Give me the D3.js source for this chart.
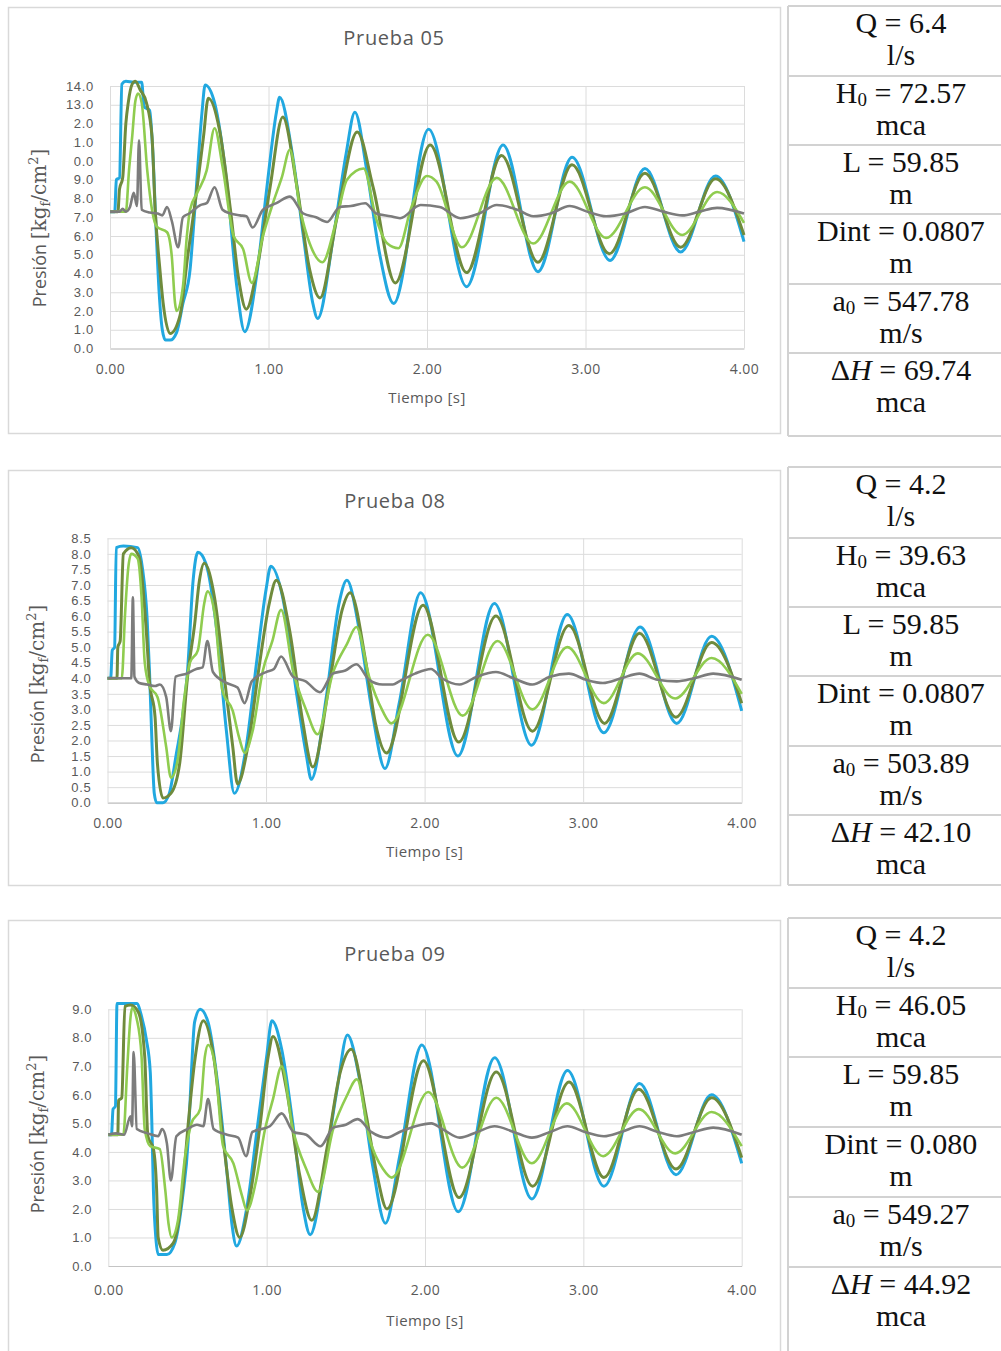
<!DOCTYPE html>
<html>
<head>
<meta charset="utf-8">
<script src="https://cdn.jsdelivr.net/npm/d3@7"></script>
<style>
  body { margin: 0; background: #fff; }
  svg { display: block; }
</style>
</head>
<body>
<div id="graph-container"></div>
<script>
// ---- datos: [tiempo s, presion kgf/cm2] ----

const ticksTiempo = [0, 1, 2, 3, 4];
const ticksY05 = [0, 1, 2, 3, 4, 5, 6, 7, 8, 9, 10, 11, 12, 13, 14];
const ticksY08 = [0, 0.5, 1, 1.5, 2, 2.5, 3, 3.5, 4, 4.5, 5, 5.5, 6, 6.5, 7, 7.5, 8, 8.5];
const ticksY09 = [0, 1, 2, 3, 4, 5, 6, 7, 8, 9];

const titulos = ["Prueba 05", "Prueba 08", "Prueba 09"];

// Prueba 05
const p05Azul = [[0,7.3],[0.03,7.3],[0.04,9.0],[0.06,9.1],[0.075,14.1],[0.1,14.25],[0.15,14.2],[0.2,14.2],[0.215,12.9],[0.25,12.7],[0.27,10.5],[0.29,6.5],[0.31,3.0],[0.33,1.0],[0.35,0.45],[0.38,0.45],[0.42,0.85],[0.46,2.4],[0.505,4.2],[0.535,7.4],[0.58,12.55],[0.60,14.05],[0.66,13.1],[0.74,8.6],[0.80,3.3],[0.85,0.9],[0.93,4.2],[0.99,8.6],[1.05,12.6],[1.07,13.4],[1.15,10.4],[1.22,6.0],[1.28,2.4],[1.31,1.6],[1.41,6.0],[1.49,10.4],[1.545,12.6],[1.62,9.5],[1.70,5.1],[1.79,2.4],[2.01,11.7],[2.25,3.3],[2.48,10.85],[2.70,4.1],[2.915,10.2],[3.155,4.7],[3.375,9.6],[3.60,5.15],[3.82,9.2],[4.0,5.7]];
const p05Verde = [[0,7.3],[0.05,7.3],[0.06,8.5],[0.08,9.1],[0.10,12.0],[0.115,13.1],[0.14,14.1],[0.16,14.25],[0.19,13.8],[0.23,13.1],[0.265,11.3],[0.285,7.4],[0.315,4.2],[0.335,2.45],[0.38,0.8],[0.44,1.7],[0.49,4.9],[0.55,8.6],[0.59,11.3],[0.62,13.35],[0.69,11.7],[0.76,7.4],[0.81,3.8],[0.86,2.1],[0.935,4.6],[1.01,8.6],[1.09,12.35],[1.18,8.6],[1.26,4.2],[1.325,2.7],[1.43,6.9],[1.56,11.55],[1.66,8.6],[1.80,3.5],[2.02,10.85],[2.25,4.05],[2.47,10.3],[2.70,4.6],[2.915,9.8],[3.15,5.05],[3.375,9.35],[3.60,5.4],[3.82,9.05],[4.0,6.05]];
const p05VerdeClaro = [[0,7.3],[0.10,7.3],[0.12,9.5],[0.14,11.3],[0.16,13.2],[0.177,13.6],[0.20,13.1],[0.235,9.5],[0.265,7.4],[0.295,6.5],[0.36,6.2],[0.39,4.9],[0.41,2.45],[0.42,2.0],[0.46,3.3],[0.485,6.0],[0.505,7.4],[0.55,8.3],[0.61,9.5],[0.66,11.75],[0.71,9.7],[0.78,6.0],[0.84,5.3],[0.895,3.5],[0.965,6.0],[1.03,7.8],[1.085,9.15],[1.135,10.6],[1.20,7.4],[1.26,5.6],[1.34,4.6],[1.43,6.9],[1.495,9.0],[1.60,9.6],[1.68,6.9],[1.75,5.6],[1.82,5.35],[1.90,7.5],[2.0,9.2],[2.06,8.9],[2.22,5.4],[2.44,9.1],[2.67,5.6],[2.90,8.9],[3.13,5.9],[3.375,8.6],[3.61,6.05],[3.83,8.35],[4.0,6.7]];
const p05Gris = [[0,7.3],[0.06,7.3],[0.08,7.45],[0.10,7.3],[0.126,7.55],[0.15,8.3],[0.17,7.6],[0.183,11.1],[0.20,7.4],[0.25,7.25],[0.30,7.2],[0.33,7.1],[0.36,7.55],[0.39,6.8],[0.43,5.4],[0.46,7.0],[0.50,7.2],[0.57,7.65],[0.61,7.75],[0.66,8.6],[0.71,7.4],[0.76,7.2],[0.82,7.1],[0.86,7.05],[0.90,6.45],[0.965,7.4],[1.05,7.75],[1.135,8.1],[1.22,7.2],[1.30,7.0],[1.37,6.75],[1.45,7.55],[1.52,7.6],[1.61,7.75],[1.68,7.2],[1.77,7.05],[1.83,6.95],[1.96,7.65],[2.08,7.55],[2.21,6.95],[2.33,7.2],[2.44,7.65],[2.57,7.4],[2.67,7.05],[2.78,7.2],[2.90,7.6],[3.01,7.3],[3.13,7.05],[3.25,7.2],[3.375,7.55],[3.49,7.3],[3.61,7.1],[3.72,7.3],[3.83,7.5],[4.0,7.2]];

// Prueba 08
const p08Azul = [[0,4.0],[0.02,4.0],[0.03,4.9],[0.045,5.0],[0.055,8.2],[0.10,8.25],[0.19,8.2],[0.22,7.55],[0.25,5.9],[0.265,4.2],[0.28,2.0],[0.295,0.3],[0.31,0.0],[0.35,0.0],[0.39,0.3],[0.435,1.6],[0.47,2.65],[0.505,4.25],[0.54,7.15],[0.57,8.05],[0.62,7.7],[0.69,5.5],[0.75,2.3],[0.80,0.3],[0.875,1.8],[0.94,4.5],[1.0,6.85],[1.03,7.6],[1.105,6.6],[1.19,3.6],[1.255,1.5],[1.285,0.75],[1.38,3.4],[1.46,6.4],[1.51,7.15],[1.59,5.5],[1.67,2.9],[1.75,1.1],[1.84,3.2],[1.975,6.75],[2.21,1.5],[2.44,6.4],[2.675,1.85],[2.90,6.05],[3.13,2.25],[3.36,5.65],[3.59,2.55],[3.81,5.35],[4.0,2.95]];
const p08Verde = [[0,4.0],[0.06,4.0],[0.065,5.0],[0.08,5.2],[0.10,8.0],[0.15,8.2],[0.20,7.9],[0.245,5.5],[0.265,3.9],[0.30,2.75],[0.315,1.25],[0.35,0.15],[0.40,0.3],[0.455,1.25],[0.505,4.05],[0.55,5.75],[0.58,7.15],[0.61,7.7],[0.675,6.6],[0.74,3.9],[0.79,1.8],[0.82,0.6],[0.885,1.8],[0.96,4.5],[1.02,6.4],[1.065,7.15],[1.15,5.5],[1.23,2.65],[1.295,1.15],[1.40,3.85],[1.48,6.2],[1.53,6.75],[1.63,4.5],[1.69,2.55],[1.76,1.6],[1.99,6.35],[2.215,1.95],[2.45,6.0],[2.68,2.3],[2.91,5.7],[3.135,2.55],[3.355,5.45],[3.585,2.75],[3.81,5.15],[4.0,3.2]];
const p08VerdeClaro = [[0,4.0],[0.09,4.0],[0.11,6.0],[0.13,7.5],[0.15,8.0],[0.19,7.85],[0.215,6.6],[0.235,4.5],[0.265,3.75],[0.315,3.4],[0.37,1.8],[0.40,0.8],[0.44,1.3],[0.485,3.4],[0.52,4.5],[0.57,4.9],[0.61,6.4],[0.63,6.8],[0.675,6.1],[0.725,3.6],[0.79,2.95],[0.83,2.1],[0.865,1.6],[0.915,2.3],[0.98,4.25],[1.04,5.2],[1.095,6.2],[1.17,4.25],[1.255,2.95],[1.325,2.2],[1.42,4.15],[1.51,5.1],[1.57,5.65],[1.65,4.05],[1.735,2.95],[1.79,2.55],[2.02,5.4],[2.24,2.8],[2.46,5.2],[2.68,3.0],[2.90,5.0],[3.13,3.2],[3.345,4.8],[3.58,3.35],[3.81,4.65],[4.0,3.5]];
const p08Gris = [[0,4.0],[0.15,4.0],[0.16,6.6],[0.17,4.05],[0.20,3.85],[0.25,3.8],[0.30,3.75],[0.33,3.8],[0.37,3.4],[0.40,2.3],[0.43,4.05],[0.50,4.15],[0.56,4.3],[0.60,4.35],[0.63,5.2],[0.665,4.2],[0.75,3.85],[0.82,3.7],[0.865,3.2],[0.91,3.9],[1.0,4.2],[1.05,4.3],[1.095,4.7],[1.17,4.05],[1.25,3.9],[1.34,3.55],[1.42,4.15],[1.50,4.25],[1.57,4.45],[1.65,3.95],[1.735,3.8],[1.80,3.8],[1.84,3.9],[1.94,4.15],[2.04,4.3],[2.11,4.0],[2.22,3.8],[2.33,4.05],[2.45,4.2],[2.56,4.0],[2.68,3.8],[2.79,4.05],[2.91,4.15],[3.02,3.95],[3.125,3.85],[3.24,4.0],[3.355,4.15],[3.47,3.95],[3.59,3.9],[3.70,4.0],[3.82,4.15],[4.0,3.95]];

// Prueba 09
const p09Azul = [[0,4.6],[0.02,4.6],[0.03,5.5],[0.045,5.6],[0.055,9.2],[0.10,9.2],[0.18,9.2],[0.21,8.75],[0.24,7.95],[0.265,6.8],[0.275,5.0],[0.285,2.65],[0.30,1.0],[0.315,0.4],[0.37,0.4],[0.42,0.8],[0.47,2.45],[0.505,4.45],[0.525,6.8],[0.545,8.55],[0.58,9.0],[0.63,8.55],[0.695,6.2],[0.75,3.25],[0.78,1.5],[0.81,0.7],[0.875,2.05],[0.94,4.8],[1.0,7.35],[1.033,8.6],[1.095,7.6],[1.165,5.0],[1.23,2.05],[1.275,1.1],[1.36,3.25],[1.445,6.2],[1.51,8.1],[1.59,6.45],[1.67,3.5],[1.75,1.5],[1.84,3.85],[1.98,7.75],[2.21,1.9],[2.44,7.3],[2.675,2.35],[2.90,6.85],[3.13,2.8],[3.355,6.4],[3.585,3.2],[3.81,6.0],[4.0,3.6]];
const p09Verde = [[0,4.6],[0.06,4.6],[0.065,5.8],[0.085,5.9],[0.105,9.1],[0.14,9.15],[0.19,8.9],[0.23,7.35],[0.25,4.55],[0.285,4.1],[0.305,2.7],[0.315,1.0],[0.345,0.55],[0.41,0.8],[0.465,2.45],[0.505,5.0],[0.545,7.15],[0.60,8.6],[0.665,7.35],[0.725,4.45],[0.78,2.05],[0.83,1.0],[0.895,2.45],[0.96,5.0],[1.01,7.35],[1.04,8.05],[1.125,6.2],[1.21,3.15],[1.285,1.6],[1.38,4.1],[1.465,6.8],[1.535,7.6],[1.63,5.25],[1.695,3.25],[1.76,2.0],[1.99,7.2],[2.215,2.4],[2.45,6.8],[2.68,2.8],[2.91,6.45],[3.13,3.1],[3.35,6.2],[3.585,3.4],[3.81,5.9],[4.0,3.8]];
const p09VerdeClaro = [[0,4.6],[0.095,4.6],[0.12,7.0],[0.14,8.7],[0.15,9.05],[0.18,8.65],[0.21,7.35],[0.23,4.8],[0.265,4.2],[0.325,4.1],[0.36,2.65],[0.38,1.5],[0.40,1.0],[0.44,1.6],[0.485,3.85],[0.525,5.0],[0.58,5.5],[0.61,7.35],[0.63,7.75],[0.675,7.0],[0.725,4.2],[0.79,3.6],[0.845,2.45],[0.875,1.95],[0.93,2.9],[0.99,4.8],[1.04,5.85],[1.095,7.0],[1.165,4.8],[1.25,3.4],[1.325,2.6],[1.42,4.8],[1.505,5.95],[1.57,6.55],[1.65,4.45],[1.735,3.4],[1.79,3.1],[2.02,6.1],[2.235,3.45],[2.45,5.9],[2.675,3.6],[2.895,5.7],[3.125,3.85],[3.35,5.5],[3.58,3.95],[3.81,5.4],[4.0,4.2]];
const p09Gris = [[0,4.6],[0.05,4.65],[0.10,4.6],[0.14,5.25],[0.15,4.9],[0.16,7.5],[0.18,4.8],[0.25,4.65],[0.315,4.55],[0.34,4.8],[0.37,4.3],[0.395,3.0],[0.43,4.55],[0.50,4.8],[0.56,4.95],[0.60,4.9],[0.63,5.85],[0.665,4.8],[0.75,4.6],[0.82,4.5],[0.87,3.85],[0.91,4.7],[1.02,4.9],[1.095,5.35],[1.17,4.7],[1.25,4.6],[1.34,4.2],[1.42,4.85],[1.50,4.95],[1.575,5.15],[1.66,4.7],[1.76,4.5],[1.84,4.7],[1.94,4.9],[2.04,5.0],[2.11,4.8],[2.22,4.5],[2.33,4.7],[2.44,4.9],[2.56,4.7],[2.675,4.5],[2.79,4.7],[2.90,4.9],[3.01,4.7],[3.13,4.55],[3.24,4.7],[3.355,4.9],[3.47,4.7],[3.59,4.55],[3.70,4.7],[3.82,4.85],[4.0,4.6]];

// tablas de parametros
const simbolos = [["Q", ""], ["H", "0"], ["L", ""], ["Dint", ""], ["a", "0"], ["ΔH", ""]];
const unidades = ["l/s", "mca", "m", "m", "m/s", "mca"];
const valores05 = ["6.4", "72.57", "59.85", "0.0807", "547.78", "69.74"];
const valores08 = ["4.2", "39.63", "59.85", "0.0807", "503.89", "42.10"];
const valores09 = ["4.2", "46.05", "59.85", "0.080", "549.27", "44.92"];

// ---- dibujo ----

const WIDTH = 1001,
    HEIGHT = 1351;

const svg = d3.select("#graph-container")
    .append("svg")
    .attr("width", WIDTH)
    .attr("height", HEIGHT);

const colores = ["#21a8e0", "#6f8b3c", "#8fcc4f", "#7c7c7c"];
const grosores = [3, 3, 2.6, 2.6];
const gris = "#595959";
const sans = "'Open Sans', 'Liberation Sans', sans-serif";
const sansEje = "'Liberation Sans', Arial, sans-serif";

const generarGrafico = (cfg) => {
    const g = svg.append("g");

    g.append("rect")
        .attr("x", cfg.caja[0] + 0.5)
        .attr("y", cfg.caja[1] + 0.5)
        .attr("width", cfg.caja[2])
        .attr("height", cfg.caja[3])
        .attr("fill", "#fff")
        .attr("stroke", "#d9d9d9")
        .attr("stroke-width", 1.5);

    const escalaX = d3.scaleLinear()
        .domain([0, 4])
        .range([cfg.izq, cfg.der]);

    const escalaY = d3.scaleLinear()
        .domain([0, d3.max(cfg.ticksY)])
        .range([cfg.abajo, cfg.arriba]);

    const yAxis = g.append("g")
        .attr("transform", `translate(${cfg.izq},0)`)
        .call(d3.axisLeft(escalaY)
            .tickValues(cfg.ticksY)
            .tickFormat(d3.format(".1f"))
            .tickSize(-(cfg.der - cfg.izq))
            .tickPadding(16));
    yAxis.select(".domain").remove();
    yAxis.selectAll("line").attr("stroke", "#dcdcdc");
    yAxis.selectAll("text")
        .attr("fill", gris)
        .style("font-family", sansEje)
        .style("font-size", "13px")
        .style("letter-spacing", "0.7px");

    const xAxis = g.append("g")
        .attr("transform", `translate(0,${cfg.abajo})`)
        .call(d3.axisBottom(escalaX)
            .tickValues(ticksTiempo)
            .tickFormat(d3.format(".2f"))
            .tickSize(-(cfg.abajo - cfg.arriba))
            .tickSizeOuter(0)
            .tickPadding(cfg.padX));
    xAxis.select(".domain").attr("stroke", "#c4c4c4").attr("stroke-width", 1.2);
    xAxis.selectAll("line").attr("stroke", "#dcdcdc");
    xAxis.selectAll("text")
        .attr("fill", gris)
        .style("font-family", sans)
        .style("font-size", "14px")
        .style("letter-spacing", "0.5px");

    const linea = d3.line()
        .curve(d3.curveMonotoneX)
        .x((d) => escalaX(d[0]))
        .y((d) => escalaY(d[1]));

    g.append("g")
        .selectAll("path")
        .data(cfg.series)
        .join("path")
        .attr("fill", "none")
        .attr("stroke", (d, i) => colores[i])
        .attr("stroke-width", (d, i) => grosores[i])
        .attr("stroke-linejoin", "round")
        .attr("d", (d) => linea(d));

    // titulo
    g.append("text")
        .attr("x", cfg.titulo[0])
        .attr("y", cfg.titulo[1])
        .attr("text-anchor", "middle")
        .attr("fill", gris)
        .style("font-family", sans)
        .style("font-size", "20px")
        .style("letter-spacing", "0.7px")
        .text(cfg.nombre);

    g.append("text")
        .attr("x", (cfg.izq + cfg.der) / 2)
        .attr("y", cfg.abajo + cfg.tituloX)
        .attr("text-anchor", "middle")
        .attr("fill", gris)
        .style("font-family", sans)
        .style("font-size", "15px")
        .style("letter-spacing", "0.4px")
        .text("Tiempo [s]");

    // tapa blanca sobre parte de las etiquetas (como en el original)
    if (cfg.tapa) {
        g.append("rect")
            .attr("x", cfg.tapa[0])
            .attr("y", cfg.tapa[1])
            .attr("width", cfg.tapa[2])
            .attr("height", cfg.tapa[3])
            .attr("fill", "#fff");
    }

    const tituloY = g.append("text")
        .attr("transform", `translate(${cfg.tituloY[0]},${cfg.tituloY[1]}) rotate(-90)`)
        .attr("text-anchor", "middle")
        .attr("dy", "0.35em")
        .attr("fill", gris);
    tituloY.append("tspan")
        .style("font-family", sans)
        .style("font-size", "18px")
        .text("Presión  ");
    const mate = "'DejaVu Serif', serif";
    tituloY.append("tspan").style("font-family", mate).style("font-size", "20px").text("[kg");
    tituloY.append("tspan").style("font-family", mate).style("font-size", "13px").attr("dy", 4).text("f");
    tituloY.append("tspan").style("font-family", mate).style("font-size", "20px").attr("dy", -4).text("/cm");
    tituloY.append("tspan").style("font-family", mate).style("font-size", "13px").attr("dy", -8).text("2");
    tituloY.append("tspan").style("font-family", mate).style("font-size", "20px").attr("dy", 8).text("]");
};

const generarTabla = (valores, bordes, fondo) => {
    const g = svg.append("g");
    const xL = 788, xC = 901;

    g.append("line")
        .attr("x1", xL).attr("x2", xL)
        .attr("y1", bordes[0]).attr("y2", fondo)
        .attr("stroke", "#d2d2d2").attr("stroke-width", 2);

    g.selectAll("line.h")
        .data(bordes)
        .join("line")
        .attr("class", "h")
        .attr("x1", xL).attr("x2", WIDTH)
        .attr("y1", (d) => d).attr("y2", (d) => d)
        .attr("stroke", "#d2d2d2").attr("stroke-width", 2);

    const fuente = "'Liberation Serif', 'DejaVu Serif', serif";

    simbolos.forEach((s, i) => {
        const y0 = bordes[i];
        const t = g.append("text")
            .attr("x", xC)
            .attr("y", y0 + 27)
            .attr("text-anchor", "middle")
            .attr("fill", "#111")
            .style("font-family", fuente)
            .style("font-size", "30px");
        if (s[0] === "ΔH") {
            t.append("tspan").text("Δ");
            t.append("tspan").style("font-style", "italic").text("H");
            t.append("tspan").text(" = " + valores[i]);
        } else if (s[1]) {
            t.append("tspan").text(s[0]);
            t.append("tspan").style("font-size", "19px").attr("dy", 3).text(s[1]);
            t.append("tspan").attr("dy", -3).text(" = " + valores[i]);
        } else {
            t.append("tspan").text(s[0] + " = " + valores[i]);
        }

        g.append("text")
            .attr("x", xC)
            .attr("y", y0 + 59)
            .attr("text-anchor", "middle")
            .attr("fill", "#111")
            .style("font-family", fuente)
            .style("font-size", "30px")
            .text(unidades[i]);
    });
};

generarGrafico({
    nombre: titulos[0],
    caja: [8, 7, 772, 426],
    izq: 110, der: 744, arriba: 86, abajo: 348.5,
    ticksY: ticksY05,
    padX: 16, tituloX: 54,
    titulo: [394, 45],
    tituloY: [40, 228],
    tapa: [22, 119, 51.5, 49],
    series: [p05Azul, p05Verde, p05VerdeClaro, p05Gris]
});

generarGrafico({
    nombre: titulos[1],
    caja: [8, 470, 772, 415],
    izq: 107.5, der: 741.7, arriba: 538.3, abajo: 802.7,
    ticksY: ticksY08,
    padX: 15, tituloX: 54,
    titulo: [395, 508],
    tituloY: [38, 684],
    series: [p08Azul, p08Verde, p08VerdeClaro, p08Gris]
});

generarGrafico({
    nombre: titulos[2],
    caja: [8, 920, 772, 440],
    izq: 108.3, der: 741.7, arriba: 1009.3, abajo: 1266,
    ticksY: ticksY09,
    padX: 19, tituloX: 60,
    titulo: [395, 961],
    tituloY: [38, 1134],
    series: [p09Azul, p09Verde, p09VerdeClaro, p09Gris]
});

generarTabla(valores05, [6, 76, 145, 214, 284, 353, 436], 436);
generarTabla(valores08, [467, 538, 607, 676, 746, 815, 885], 885);
generarTabla(valores09, [918, 988, 1057, 1127, 1197, 1267], 1360);
</script>
</body>
</html>
